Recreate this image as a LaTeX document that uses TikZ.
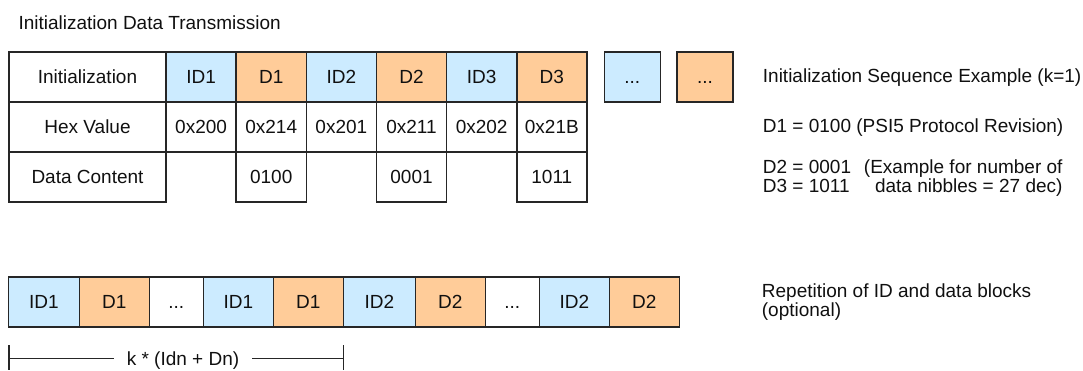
\documentclass[tikz,border=0pt]{standalone}
\usepackage{fontspec}
\setmainfont{Liberation Sans}
\usetikzlibrary{positioning}
\definecolor{idblue}{HTML}{CCEBFF}
\definecolor{dorange}{HTML}{FFCC99}
\definecolor{edge}{HTML}{262626}
\definecolor{ink}{HTML}{101010}
\newcommand{\ellip}{...}

\begin{document}
\begin{tikzpicture}[x=1pt,y=-1pt,font=\fontsize{19}{19.5}\selectfont,text=ink,
  cell/.style={draw=edge,line width=1.6pt,anchor=north west,minimum height=50,
    inner sep=0pt,outer sep=0pt,text height=13.6pt,text depth=0pt},
  idcell/.style={cell,fill=idblue},
  dcell/.style={cell,fill=dorange},
  note/.style={anchor=base west,inner sep=0pt},
  rnote/.style={anchor=base east,inner sep=0pt}]
  \useasboundingbox (0,0) rectangle (1083,370);
  % title
  \node[note] (title) at (18.3,29.3) {Initialization Data Transmission};
  % table
  \node[cell,minimum width=157] (lab1) at (9,52) {Initialization};
  \node[cell,minimum width=157] (lab2) at (9,102) {Hex Value};
  \node[cell,minimum width=157] (lab3) at (9,152) {Data Content};
  \foreach \lbl/\hex/\dat [count=\i from 0, evaluate=\i as \xx using 166+70.15*\i] in
     {ID1/0x200/-,D1/0x214/0100,ID2/0x201/-,D2/0x211/0001,ID3/0x202/-,D3/0x21B/1011}{
    \ifodd\i \def\tone{dorange}\else \def\tone{idblue}\fi
    \node[cell,fill=\tone,minimum width=70.15] (h\i) at (\xx,52) {\lbl};
    \node[cell,minimum width=70.15] (v\i) at (\xx,102) {\hex};
    \ifodd\i \node[cell,minimum width=70.15] (c\i) at (\xx,152) {\dat};\fi
  }
  \node[idcell,minimum width=56] (more1) at (604.3,52) {\ellip};
  \node[dcell,minimum width=56] (more2) at (677,52) {\ellip};
  % notes
  \node[note] (seq) at (762.7,82.5) {Initialization Sequence Example (k=1)};
  \node[note] (rev) at (762.7,132.7) {D1 = 0100 (PSI5 Protocol Revision)};
  \node[note] (dtwo) at (762.7,173.3) {D2 = 0001};
  \node[note] (dthree) at (762.7,192.7) {D3 = 1011};
  \node[rnote] (nibA) at (1062.7,173.3) {(Example for number of};
  \node[rnote] (nibB) at (1062.7,192.7) {data nibbles = 27 dec)};
  % repetition row
  \node[idcell,minimum width=71] (r1) at (8.3,277) {ID1};
  \foreach \lbl/\w/\tone [count=\i from 2, remember=\i as \j (initially 1)] in
     {D1/70/dorange,\ellip/54/white,ID1/70/idblue,D1/70/dorange,ID2/72/idblue,
      D2/70/dorange,\ellip/54/white,ID2/70/idblue,D2/70/dorange}
    \node[cell,fill=\tone,minimum width=\w,right=0pt of r\j] (r\i) {\lbl};
  \node[note] (rep1) at (761.7,297.3) {Repetition of ID and data blocks};
  \node[note] (rep2) at (761.7,316) {(optional)};
  % span of k blocks
  \coordinate (kL) at (9,358.3);
  \coordinate (kR) at (343.3,358.3);
  \node[inner xsep=13pt,inner ysep=0pt,text height=13.6pt,text depth=0pt] (span) at (183,358.3) {k * (Idn + Dn)};
  \draw[edge,line width=1.4pt] (kL) -- (span.west) (span.east) -- (kR);
  \draw[edge,line width=1.4pt] (kL) ++(0,-13) -- ++(0,25) (kR) ++(0,-13) -- ++(0,25);
\end{tikzpicture}
\end{document}
